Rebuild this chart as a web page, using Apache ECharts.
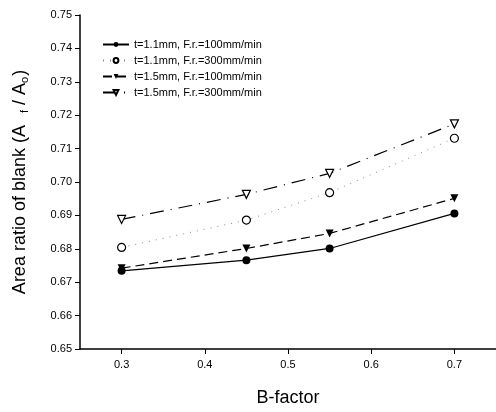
<!DOCTYPE html>
<html>
<head>
<meta charset="utf-8">
<script src="https://cdn.jsdelivr.net/npm/echarts@6/dist/echarts.min.js"></script>
<style>
  html, body { margin: 0; padding: 0; background: #fff; }
  #chart { width: 496px; height: 412px; }
</style>
</head>
<body>
<div id="chart"></div>
<script>
var bFactor = [0.3, 0.45, 0.55, 0.7];
var xTicks = [0.3, 0.4, 0.5, 0.6, 0.7];
var names = [
    't=1.1mm, F.r.=100mm/min',
    't=1.1mm, F.r.=300mm/min',
    't=1.5mm, F.r.=100mm/min',
    't=1.5mm, F.r.=300mm/min'
];
var t11f100 = [0.6734, 0.6766, 0.6801, 0.6906];
var t11f300 = [0.6804, 0.6886, 0.6968, 0.7131];
var t15f100 = [0.6742, 0.6801, 0.6846, 0.6951];
var t15f300 = [0.6888, 0.6963, 0.7026, 0.7174];

function pairs(ys) {
    return bFactor.map(function (x, i) { return [x, ys[i]]; });
}

var chart = echarts.init(document.getElementById('chart'));
var font = 'Liberation Sans, Arial, sans-serif';

var option = {
    animation: false,
    textStyle: { fontFamily: font },
    grid: { left: 80, right: -2, top: 15, bottom: 63 },
    legend: {
        orient: 'vertical',
        left: 97,
        top: 34,
        itemWidth: 26,
        itemHeight: 6,
        itemGap: 5,
        textStyle: { fontSize: 11, color: '#000', fontFamily: font },
        data: names
    },
    xAxis: {
        type: 'value',
        min: 0.25,
        max: 0.75,
        name: 'B-factor',
        nameLocation: 'middle',
        nameGap: 40,
        nameTextStyle: { fontSize: 18, color: '#000' },
        axisLine: { lineStyle: { color: '#000', width: 1.5 } },
        axisTick: { inside: false, length: 5, customValues: xTicks, lineStyle: { color: '#000' } },
        axisLabel: {
            fontSize: 11,
            color: '#000',
            margin: 10,
            customValues: xTicks,
            formatter: function (v) { return v.toFixed(1); }
        },
        splitLine: { show: false }
    },
    yAxis: {
        type: 'value',
        min: 0.65,
        max: 0.75,
        interval: 0.01,
        name: '{n|Area ratio of blank (A}{f|f}{n|/ A}{o|o}{n|)}',
        nameLocation: 'middle',
        nameGap: 50,
        nameTextStyle: {
            rich: {
                n: { fontSize: 18, color: '#000', fontFamily: font },
                f: { fontSize: 11, color: '#000', fontFamily: font, padding: [9, 5, 0, 12] },
                o: { fontSize: 11, color: '#000', fontFamily: font, padding: [9, 1, 0, 0] }
            }
        },
        axisLine: { show: true, lineStyle: { color: '#000', width: 1.5 } },
        axisTick: { show: true, inside: false, length: 5, lineStyle: { color: '#000' } },
        axisLabel: {
            fontSize: 11,
            color: '#000',
            margin: 8,
            formatter: function (v) { return v.toFixed(2); }
        },
        splitLine: { show: false }
    },
    series: [
        {
            name: names[0],
            type: 'line',
            data: pairs(t11f100),
            symbol: 'circle',
            symbolSize: 8,
            itemStyle: { color: '#000' },
            lineStyle: { color: '#000', width: 1.2, type: 'solid' }
        },
        {
            name: names[1],
            type: 'line',
            data: pairs(t11f300),
            symbol: 'circle',
            symbolSize: 8,
            itemStyle: { color: '#fff', borderColor: '#000', borderWidth: 1.2 },
            lineStyle: { color: '#888', width: 1, type: [1, 6] }
        },
        {
            name: names[2],
            type: 'line',
            data: pairs(t15f100),
            symbol: 'triangle',
            symbolRotate: 180,
            symbolSize: 8,
            itemStyle: { color: '#000' },
            lineStyle: { color: '#000', width: 1.2, type: [9, 5] }
        },
        {
            name: names[3],
            type: 'line',
            data: pairs(t15f300),
            symbol: 'triangle',
            symbolRotate: 180,
            symbolSize: 8,
            itemStyle: { color: '#fff', borderColor: '#000', borderWidth: 1.2 },
            lineStyle: { color: '#000', width: 1.2, type: [14, 7, 1, 7] }
        }
    ]
};
chart.setOption(option);
</script>
</body>
</html>
